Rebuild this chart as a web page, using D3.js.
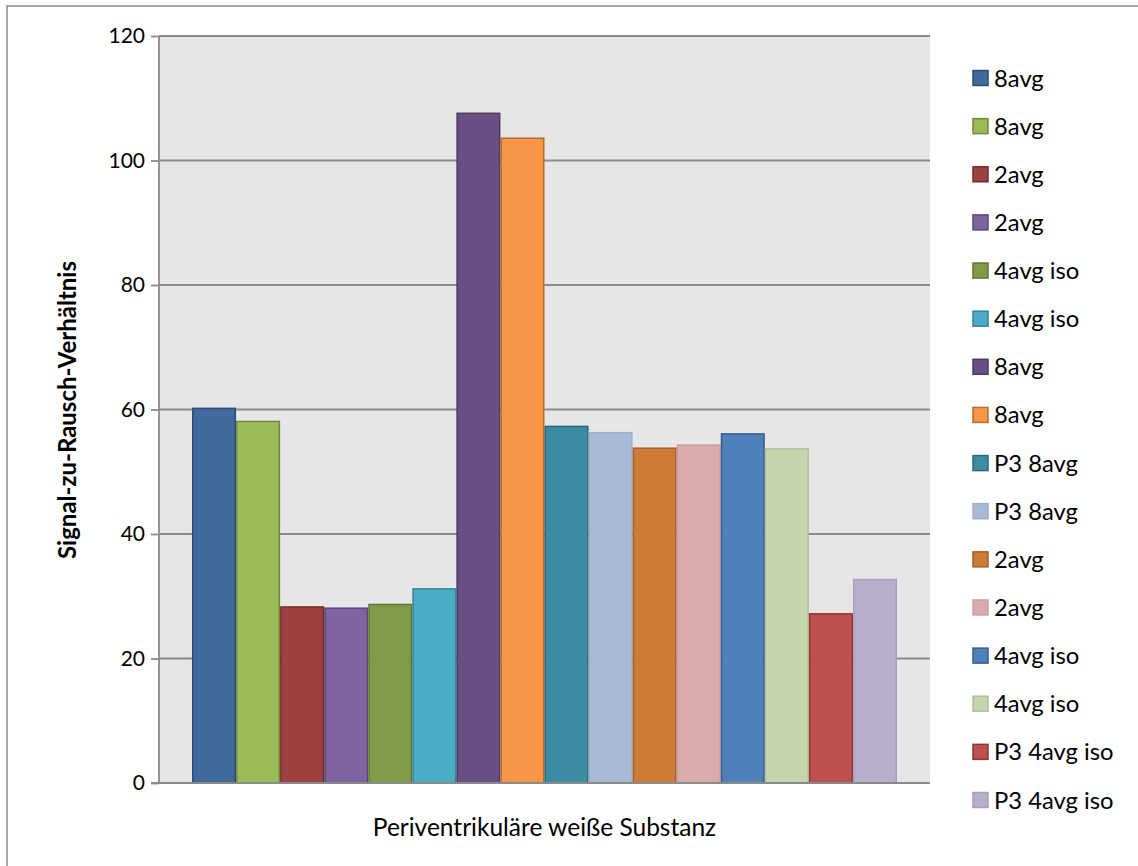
<!DOCTYPE html>
<html><head><meta charset="utf-8">
<script src="https://cdn.jsdelivr.net/npm/d3@7"></script>
<style>body{margin:0;background:#fff;} svg{display:block;font-family:Lato, "Open Sans", sans-serif;}</style>
</head><body>
<svg id="c" width="1138" height="866"></svg>
<script>
const category = "Periventrikuläre weiße Substanz";
const seriesNames = ["8avg","8avg","2avg","2avg","4avg iso","4avg iso","8avg","8avg","P3 8avg","P3 8avg","2avg","2avg","4avg iso","4avg iso","P3 4avg iso","P3 4avg iso"];
const seriesValues = [60.3,58.2,28.4,28.2,28.8,31.3,107.7,103.7,57.4,56.4,53.9,54.4,56.2,53.8,27.3,32.8];
const fillColors = ["#3F6A9B","#9BBB59","#9E4140","#8064A2","#7F9A48","#4BACC6","#6A4F86","#F79646","#3C8CA4","#AAB9D8","#CE7B37","#DBAAAA","#4F81BD","#C6D6AC","#C0504D","#B8AECA"];
const strokeColors = ["#2C4D75","#71893F","#772C2A","#5C4776","#5F7530","#31859C","#4D3B62","#B66D31","#276A7C","#A0AFC8","#A5602A","#C8A0A0","#385D8A","#B3BFA0","#8C3836","#A99FBC"];
const yTicks = [0,20,40,60,80,100,120];

const svg = d3.select("#c");
const L = 159, R = 930, T = 36, B = 783;

// outer border
svg.append("rect").attr("x",7).attr("y",6).attr("width",1140).attr("height",870)
  .attr("fill","none").attr("stroke","#8c8c8c").attr("stroke-width",1.5);

svg.append("rect").attr("x",L).attr("y",T).attr("width",R-L).attr("height",B-T).attr("fill","#E6E6E6");

const y = d3.scaleLinear().domain([0,120]).range([B,T]);
const x0 = d3.scaleBand().domain([category]).range([L,R]).paddingInner(0).paddingOuter(0.0468);
const x1 = d3.scaleBand().domain(d3.range(seriesValues.length)).range([x0(category), x0(category)+x0.bandwidth()]).padding(0);

// gridlines
svg.append("g").selectAll("line").data(yTicks.filter(d=>d>0)).join("line")
  .attr("x1",L).attr("x2",R).attr("y1",d=>y(d)).attr("y2",d=>y(d))
  .attr("stroke","#8a8a8a").attr("stroke-width",1.8);

// bars
svg.append("g").selectAll("rect").data(seriesValues).join("rect")
  .attr("x",(d,i)=>x1(i)+0.75).attr("width",x1.bandwidth()-1.5)
  .attr("y",d=>y(d)+0.75).attr("height",d=>B-y(d)-0.75)
  .attr("fill",(d,i)=>fillColors[i]).attr("stroke",(d,i)=>strokeColors[i]).attr("stroke-width",1.5);

// y axis
const ya = svg.append("g").attr("transform",`translate(${L},0)`)
  .call(d3.axisLeft(y).tickValues(yTicks).tickSize(8).tickPadding(6));
ya.select(".domain").attr("stroke","#8a8a8a").attr("stroke-width",1.8).attr("d",`M0,${T}V${B}`);
ya.selectAll(".tick line").attr("stroke","#8a8a8a").attr("stroke-width",1.8);
ya.selectAll(".tick text").attr("font-size",21).attr("fill","#000").attr("font-family","Lato");

// x axis line
svg.append("line").attr("x1",L-8).attr("x2",R).attr("y1",B).attr("y2",B).attr("stroke","#8a8a8a").attr("stroke-width",1.8);

// axis titles
svg.append("text").attr("x",(L+R)/2).attr("y",836).attr("text-anchor","middle")
  .attr("font-size",24.5).attr("fill","#000").text(category);
svg.append("text").attr("transform",`translate(76,410) rotate(-90)`).attr("text-anchor","middle")
  .attr("font-size",24).attr("font-weight","bold").attr("fill","#000").text("Signal-zu-Rausch-Verhältnis");

// legend
const lg = svg.append("g");
const ly = d3.scaleLinear().domain([0,15]).range([78,800]);
seriesNames.forEach((n,i)=>{
  const g = lg.append("g").attr("transform",`translate(973,${ly(i)})`);
  g.append("rect").attr("x",0).attr("y",-7.5).attr("width",15).attr("height",15)
    .attr("fill",fillColors[i]).attr("stroke",strokeColors[i]).attr("stroke-width",1.5);
  g.append("text").attr("x",21).attr("y",8.5).attr("font-size",23.8).attr("fill","#000").text(n);
});
</script>
</body></html>
